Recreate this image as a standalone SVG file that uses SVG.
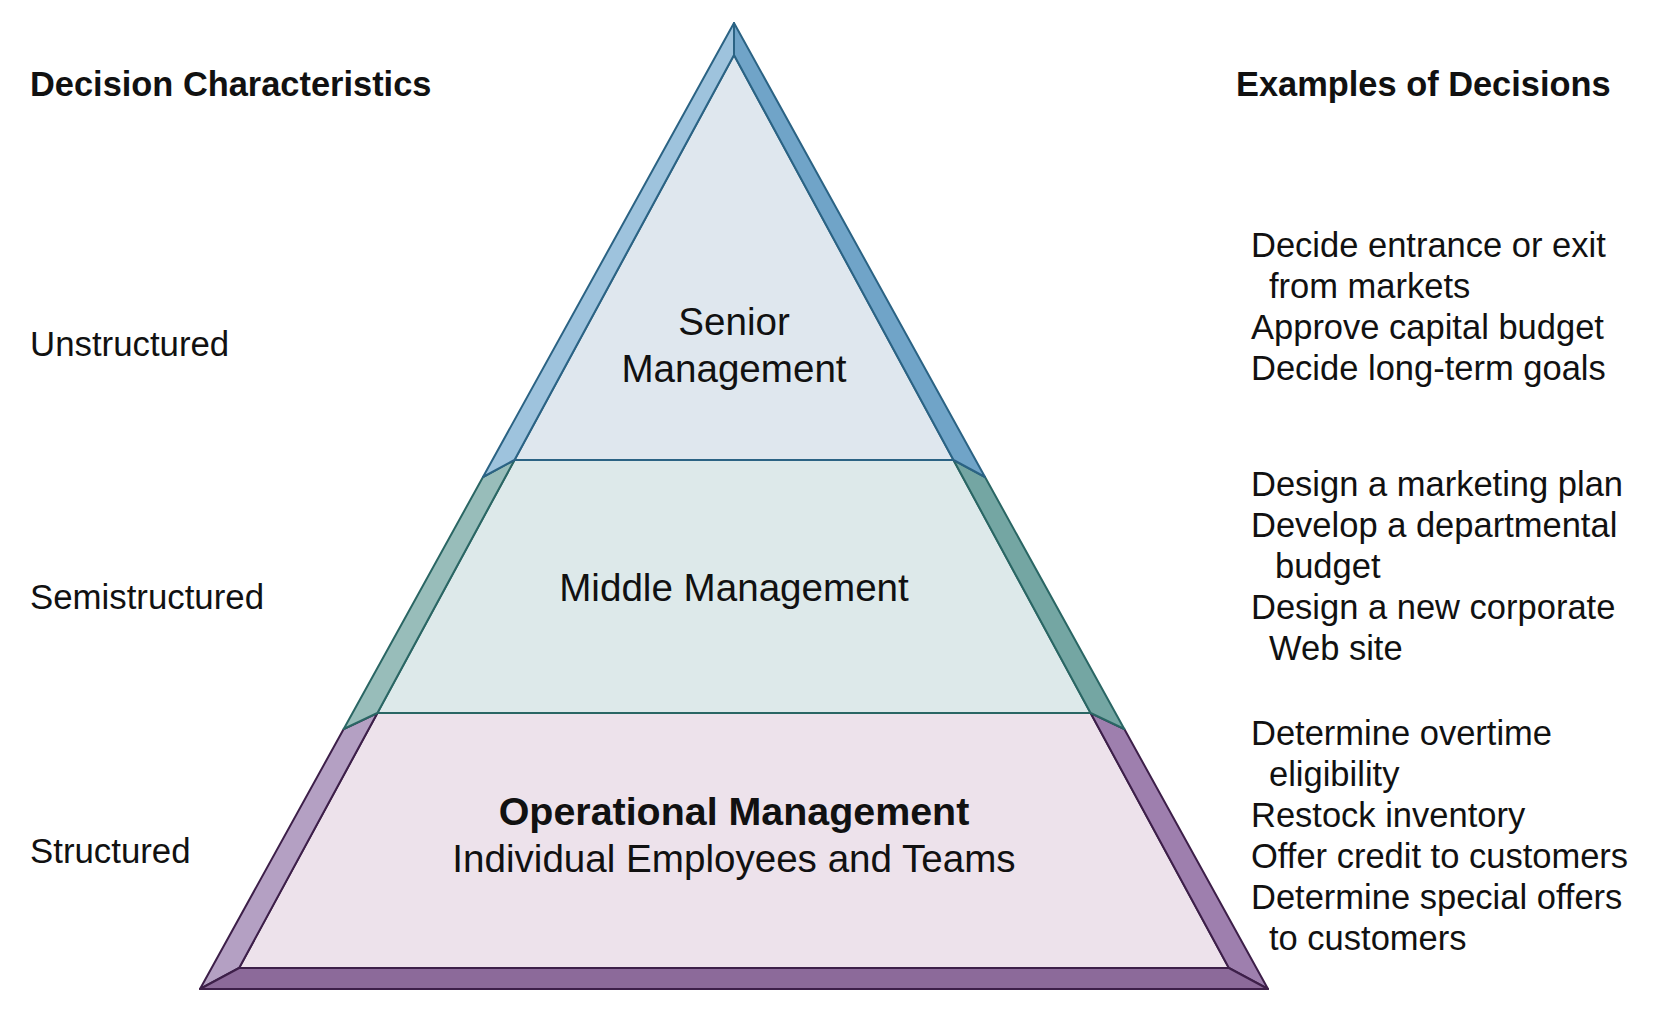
<svg xmlns="http://www.w3.org/2000/svg" width="1654" height="1014" viewBox="0 0 1654 1014">
<style>
text{font-family:"Liberation Sans",Arial,Helvetica,sans-serif;fill:#111;}
.hdr{font-size:34.4px;font-weight:bold;}
.lbl{font-size:34.8px;}
.ex{font-size:34.5px;}
.tier{font-size:38.6px;text-anchor:middle;}
.b{font-weight:bold;font-size:39.4px;}
.s1 polygon{stroke:#2b6384;stroke-width:2;stroke-linejoin:round;}
.s2 polygon{stroke:#2a6664;stroke-width:2;stroke-linejoin:round;}
.s3 polygon{stroke:#3d1f49;stroke-width:2;stroke-linejoin:round;}
</style>
<rect width="1654" height="1014" fill="#ffffff"/>

<g id="tier-operational" class="s3">
<polygon points="377.4,713 1090.6,713 1228.9,968 239.1,968" fill="#ede2eb"/>
<polygon points="343.7,729 377.4,713 239.1,968 200,989" fill="#b4a0c3"/>
<polygon points="1124.3,729 1090.6,713 1228.9,968 1268,989" fill="#9e7fae"/>
<polygon points="239.1,968 1228.9,968 1268,989 200,989" fill="#8c6a9a"/>
<text class="tier b" x="734" y="825">Operational Management</text>
<text class="tier" x="734" y="872">Individual Employees and Teams</text>
</g>

<g id="tier-middle" class="s2">
<polygon points="514.5,460 953.5,460 1090.6,713 377.4,713" fill="#dde9ea"/>
<polygon points="483,477 514.5,460 377.4,713 343.7,729" fill="#98bdba"/>
<polygon points="985,477 953.5,460 1090.6,713 1124.3,729" fill="#74a6a3"/>
<text class="tier" x="734" y="601">Middle Management</text>
</g>

<g id="tier-senior" class="s1">
<polygon points="734,55 953.5,460 514.5,460" fill="#dfe7ee"/>
<polygon points="734,23 734,55 514.5,460 483,477" fill="#9ec3dd"/>
<polygon points="734,23 734,55 953.5,460 985,477" fill="#70a4c8"/>
<text class="tier" x="734" y="335">Senior</text>
<text class="tier" x="734" y="382">Management</text>
</g>

<g id="characteristics">
<text class="hdr" x="30" y="96">Decision Characteristics</text>
<text class="lbl" x="30" y="356">Unstructured</text>
<text class="lbl" x="30" y="609">Semistructured</text>
<text class="lbl" x="30" y="863">Structured</text>
</g>

<g id="examples">
<text class="hdr" x="1236" y="96">Examples of Decisions</text>
<text class="ex" x="1251" y="257">Decide entrance or exit</text>
<text class="ex" x="1269" y="298">from markets</text>
<text class="ex" x="1251" y="339">Approve capital budget</text>
<text class="ex" x="1251" y="380">Decide long-term goals</text>
<text class="ex" x="1251" y="496">Design a marketing plan</text>
<text class="ex" x="1251" y="537">Develop a departmental</text>
<text class="ex" x="1275" y="578">budget</text>
<text class="ex" x="1251" y="619">Design a new corporate</text>
<text class="ex" x="1269" y="660">Web site</text>
<text class="ex" x="1251" y="745">Determine overtime</text>
<text class="ex" x="1269" y="786">eligibility</text>
<text class="ex" x="1251" y="827">Restock inventory</text>
<text class="ex" x="1251" y="868">Offer credit to customers</text>
<text class="ex" x="1251" y="909">Determine special offers</text>
<text class="ex" x="1269" y="950">to customers</text>
</g>
</svg>
